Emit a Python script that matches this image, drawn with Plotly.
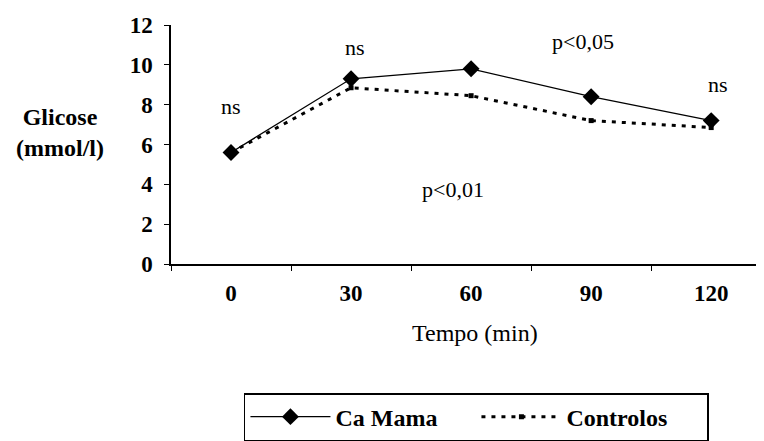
import plotly.graph_objects as go

tempos = ["0", "30", "60", "90", "120"]
ca_mama = [5.6, 9.3, 9.8, 8.4, 7.2]
controlos = [5.6, 8.85, 8.45, 7.2, 6.85]

sig_labels = ["ns", "ns", "p<0,05", "ns", "p<0,01"]
sig_x = [0.0, 1.03, 2.93, 4.06, 1.85]
sig_y = [7.9, 10.85, 11.15, 9.0, 3.72]

FONT = "Liberation Serif"

fig = go.Figure()
fig.add_trace(go.Scatter(
    x=tempos, y=ca_mama, name="Ca Mama", mode="lines+markers",
    line=dict(color="black", width=1.3),
    marker=dict(symbol="diamond", size=13, color="black"),
))
fig.add_trace(go.Scatter(
    x=tempos, y=controlos, name="Controlos", mode="lines+markers",
    line=dict(color="black", width=3, dash="4px,6px"),
    marker=dict(symbol="square", size=5, color="black"),
))

for t, x, y in zip(sig_labels, sig_x, sig_y):
    fig.add_annotation(x=x, y=y, xref="x", yref="y", text=t, showarrow=False,
                       xanchor="center", yanchor="middle",
                       font=dict(family=FONT, size=22, color="black"))

fig.add_annotation(x=-0.187, y=0.552, xref="paper", yref="paper",
                   text="<b>Glicose</b><br><b>(mmol/l)</b>", showarrow=False,
                   xanchor="center", yanchor="middle",
                   font=dict(family=FONT, size=24, color="black"), align="center")
fig.add_annotation(x=0.513, y=-0.289, xref="paper", yref="paper",
                   text="Tempo (min)", showarrow=False,
                   xanchor="center", yanchor="middle",
                   font=dict(family=FONT, size=24, color="black"))

fig.update_layout(
    width=764, height=441,
    margin=dict(l=163, r=8, t=17, b=185, autoexpand=False),
    paper_bgcolor="white", plot_bgcolor="white",
    font=dict(family=FONT, color="black"),
    showlegend=True,
    legend=dict(orientation="h", x=0.123, y=-0.54, xanchor="left", yanchor="top",
                bordercolor="black", borderwidth=1.5, itemwidth=80,
                entrywidth=136, entrywidthmode="pixels",
                font=dict(family=FONT, size=24, color="black", weight="bold")),
    xaxis=dict(type="category", range=[-0.5, 4.44], showline=True, linecolor="black",
               linewidth=1.5, ticks="outside", tickson="boundaries", ticklen=5,
               tickcolor="black", showgrid=False, zeroline=False, ticklabelstandoff=8,
               tickfont=dict(family=FONT, size=23, color="black", weight="bold")),
    yaxis=dict(range=[0, 12], dtick=2, showline=True, linecolor="black", linewidth=1.5,
               ticks="outside", ticklen=5, tickcolor="black", showgrid=False,
               zeroline=False, ticklabelstandoff=7,
               tickfont=dict(family=FONT, size=23, color="black", weight="bold")),
)

fig.write_html("out.html")
